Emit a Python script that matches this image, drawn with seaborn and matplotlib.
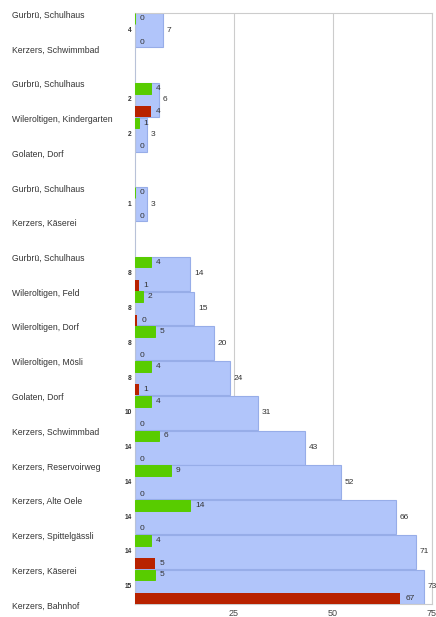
import matplotlib
matplotlib.use("Agg")
import matplotlib.pyplot as plt
import matplotlib.transforms as mtransforms
import seaborn as sns
import pandas as pd

# ---- data ----
stops = ["Gurbrü, Schulhaus", "Kerzers, Schwimmbad",
         "Gurbrü, Schulhaus", "Wileroltigen, Kindergarten", "Golaten, Dorf",
         "Gurbrü, Schulhaus", "Kerzers, Käserei",
         "Gurbrü, Schulhaus", "Wileroltigen, Feld", "Wileroltigen, Dorf",
         "Wileroltigen, Mösli", "Golaten, Dorf", "Kerzers, Schwimmbad",
         "Kerzers, Reservoirweg", "Kerzers, Alte Oele", "Kerzers, Spittelgässli",
         "Kerzers, Käserei", "Kerzers, Bahnhof"]
seg_start = [0, 2, 3, 5, 7, 8, 9, 10, 11, 12, 13, 14, 15, 16]
on_board = [7, 6, 3, 3, 14, 15, 20, 24, 31, 43, 52, 66, 71, 73]
boarding = [0, 4, 1, 0, 4, 2, 5, 4, 4, 6, 9, 14, 4, 5]
alighting = [0, 4, 0, 0, 1, 0.4, 0, 1, 0, 0, 0, 0, 5, 67]
trips = [4, 2, 2, 1, 8, 8, 8, 8, 10, 14, 14, 14, 14, 15]
xticks = [25, 50, 75]

BLUE = "#b1c5fa"
BLUE_EDGE = "#97ade8"
GREEN = "#58cc00"
RED = "#b82200"
GRID = "#cccccc"
TXT = "#333333"

sns.set_style("white")
plt.rcParams["font.family"] = ["Liberation Sans", "DejaVu Sans"]

fig = plt.figure(figsize=(4.36, 6.17), dpi=100)
ax = fig.add_axes([135 / 436, 1 - 604 / 617, 297 / 436, 591 / 617])

df_blue = pd.DataFrame({"v": on_board, "y": [s + 0.5 for s in seg_start]})
df_green = pd.DataFrame({"v": boarding, "y": [s + 0.165 for s in seg_start]})
df_red = pd.DataFrame({"v": alighting, "y": [s + 0.84 for s in seg_start]})

sns.barplot(data=df_blue, x="v", y="y", orient="h", native_scale=True,
            width=0.975, color=BLUE, edgecolor=BLUE_EDGE, linewidth=0.8,
            errorbar=None, saturation=1, ax=ax, zorder=2)
sns.barplot(data=df_green, x="v", y="y", orient="h", native_scale=True,
            width=0.31, color=GREEN, edgecolor=GREEN, linewidth=0.7,
            errorbar=None, saturation=1, ax=ax, zorder=3)
sns.barplot(data=df_red, x="v", y="y", orient="h", native_scale=True,
            width=0.31, color=RED, linewidth=0,
            errorbar=None, saturation=1, ax=ax, zorder=3)

ax.set_xlim(0, 75)
ax.set_ylim(17, 0)
ax.set_xlabel("")
ax.set_ylabel("")
ax.set_yticks([])
ax.set_xticks(xticks)
ax.set_xticklabels([str(t) for t in xticks])
ax.tick_params(axis="x", length=0, pad=3.5, labelsize=6.5, labelcolor="#444444")
ax.grid(axis="x", color=GRID, linewidth=0.8, zorder=0)
ax.set_axisbelow(True)
for sp in ax.spines.values():
    sp.set_color(GRID)
    sp.set_linewidth(0.8)
ax.spines["left"].set_color("#b8c2d8")

# value labels
FS = 6.0
for s, b, g, r, t in zip(seg_start, on_board, boarding, alighting, trips):
    ax.annotate(f"{b:.0f}", (b, s + 0.5), xytext=(2.5, 0), textcoords="offset points",
                ha="left", va="center", fontsize=FS, color=TXT, annotation_clip=False)
    ax.annotate(f"{g:.0f}", (g, s + 0.165), xytext=(3.5, 0), textcoords="offset points",
                ha="left", va="center", fontsize=FS, color=TXT)
    ax.annotate(f"{r:.0f}", (r, s + 0.84), xytext=(3.5, 0), textcoords="offset points",
                ha="left", va="center", fontsize=FS, color=TXT)
    ax.annotate(f"{t}", (0, s + 0.5), xytext=(-2.5, 0), textcoords="offset points",
                ha="right", va="center", fontsize=4.8, fontweight="bold", color=TXT,
                annotation_clip=False)

# stop labels
trans = mtransforms.blended_transform_factory(fig.transFigure, ax.transData)
for i, name in enumerate(stops):
    ax.text(12 / 436, i + 0.06, name, transform=trans, ha="left", va="center",
            fontsize=6.2, color=TXT)

fig.savefig("out.png", dpi=100)
